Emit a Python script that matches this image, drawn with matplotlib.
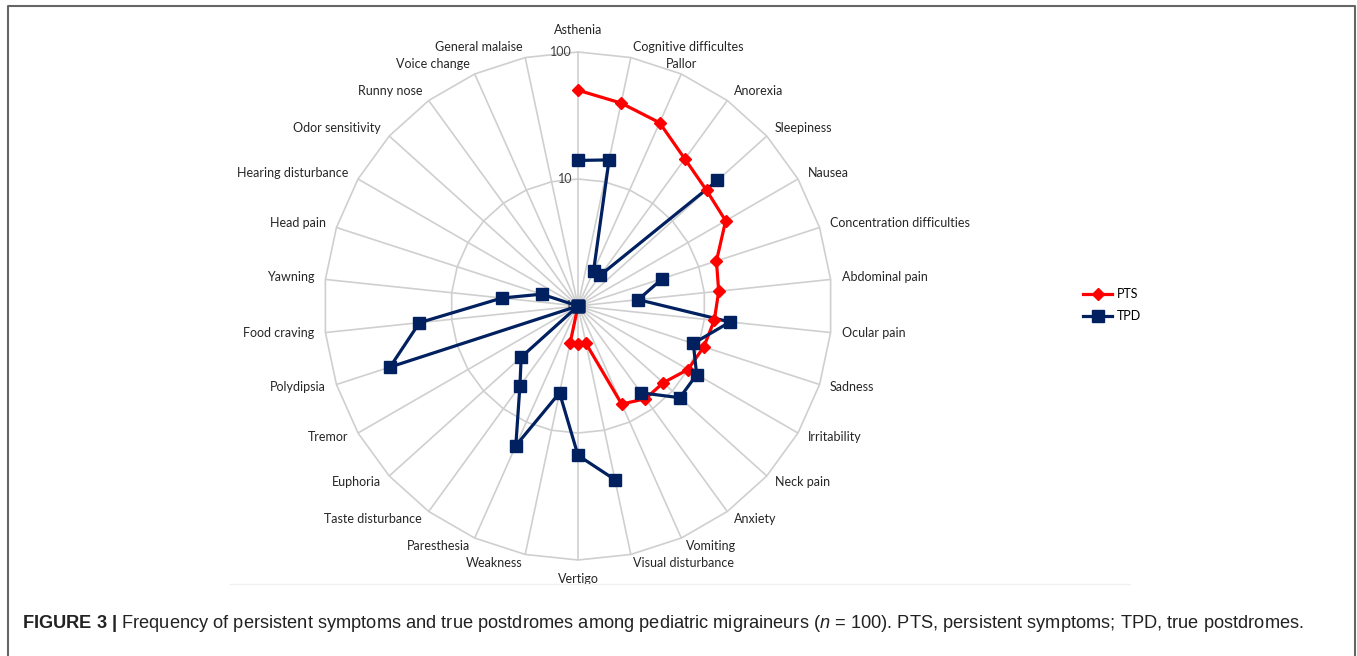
import matplotlib
matplotlib.use("Agg")
import matplotlib.pyplot as plt
from matplotlib.lines import Line2D
import numpy as np

plt.rcParams["font.family"] = ["Lato", "DejaVu Sans"]
plt.rcParams["mathtext.fontset"] = "custom"
plt.rcParams["mathtext.rm"] = "Liberation Sans"
plt.rcParams["mathtext.bf"] = "Liberation Sans:bold"
plt.rcParams["mathtext.it"] = "Liberation Sans:italic"

symptoms = ["Asthenia", "Cognitive difficultes", "Pallor", "Anorexia", "Sleepiness",
            "Nausea", "Concentration difficulties", "Abdominal pain", "Ocular pain",
            "Sadness", "Irritability", "Neck pain", "Anxiety", "Vomiting",
            "Visual disturbance", "Vertigo", "Weakness", "Paresthesia",
            "Taste disturbance", "Euphoria", "Tremor", "Polydipsia", "Food craving",
            "Yawning", "Head pain", "Hearing disturbance", "Odor sensitivity",
            "Runny nose", "Voice change", "General malaise"]
nan = np.nan
pts = [50, 43, 38, 27, 23, 22, 14, 13, 12, 11, 10, 8, 8, 7, 2, 2, 2,
       1, 1, 1, 1, 1, 1, 1, 1, 1, 1, 1, 1, 1]
tpd = [14, 15, 2, 2, 30, nan, 5, 3, 16, 9, 12, 12, 7, nan, 25, 15, 5,
       16, 6, 4, 1, 36, 18, 4, 2, 1, 1, 1, 1, 1]
rticks = [1, 10, 100]

RED = "#ff0000"
NAVY = "#002060"
GRID = "#cfcfcf"

W, H = 1357, 656
fig = plt.figure(figsize=(W / 100, H / 100), dpi=100)
cx, cy, R = 578, 306, 254
ax = fig.add_axes([(cx - R) / W, (H - cy - R) / H, 2 * R / W, 2 * R / H],
                  projection="polar")
ax.set_theta_zero_location("N")
ax.set_theta_direction(-1)
ax.set_rscale("log")
ax.set_rlim(1, 100)

n = len(symptoms)
theta = np.arange(n) * 2 * np.pi / n
ax.set_xticks(theta)
ax.set_xticklabels([])
ax.set_yticks([])
ax.xaxis.grid(True, color=GRID, lw=1.2)
ax.spines["polar"].set_visible(False)
ax.set_facecolor("none")

# polygonal gridlines (Excel radar style)
th_c = np.append(theta, theta[0])
for rv in rticks[1:]:
    ax.plot(th_c, np.full(n + 1, rv), color=GRID, lw=1.2, clip_on=False, zorder=1)
for rv in rticks:
    ax.annotate(str(rv), xy=(0, rv), xytext=(-6, 0), textcoords="offset pixels",
                ha="right", va="center", fontsize=9, color="#404040")

# series: lines first, then markers so navy squares sit on top
ax.plot(theta, pts, color=RED, lw=2.3, zorder=3, clip_on=False)
ax.plot(theta, tpd, color=NAVY, lw=2.3, zorder=3, clip_on=False)
ax.plot(theta, pts, ls="none", marker="D", ms=6, color=RED, zorder=4, clip_on=False)
ax.plot(theta, tpd, ls="none", marker="s", ms=8, color=NAVY, zorder=5, clip_on=False)

for th, lab in zip(theta, symptoms):
    s, c = np.sin(th), np.cos(th)
    if abs(s) < 0.05:
        ha, dx, dy = "center", 0, (22 if c > 0 else -19)
    else:
        ha = "left" if s > 0 else "right"
        dx, dy = 11 * s, 10 * c + 1
    if lab == "Pallor":
        ha, dx = "center", 0
    ax.annotate(lab, xy=(th, 100), xytext=(dx, dy), textcoords="offset pixels",
                ha=ha, va="center", fontsize=9, color="#262626",
                annotation_clip=False)

handles = [Line2D([], [], color=RED, lw=2.3, marker="D", ms=6),
           Line2D([], [], color=NAVY, lw=2.3, marker="s", ms=8)]
fig.legend(handles, ["PTS", "TPD"], loc="center left",
           bbox_to_anchor=(1072 / W, 1 - 305 / H), frameon=False,
           fontsize=9, handlelength=2.3, handletextpad=0.4, labelspacing=0.8)

# faint chart-area border and outer frame
fig.add_artist(Line2D([230 / W, 1130 / W], [1 - 584 / H, 1 - 584 / H],
                      transform=fig.transFigure, color="#f0f0f0", lw=1))
x0, x1, yt = 8 / W, 1355 / W, 1 - 6 / H
fig.add_artist(Line2D([x0, x0, x1, x1], [0, yt, yt, 0],
                      transform=fig.transFigure, color="#666666", lw=1.5))

fig.text(22 / W, 1 - 624 / H,
         r"$\mathbf{FIGURE\ 3\ |}$ Frequency of persistent symptoms and true postdromes "
         r"among pediatric migraineurs ($\mathit{n}$ = 100). PTS, persistent symptoms; "
         r"TPD, true postdromes.",
         fontsize=13.15, va="center", ha="left", family="Liberation Sans", color="#222222")

fig.savefig("out.png", dpi=100)
